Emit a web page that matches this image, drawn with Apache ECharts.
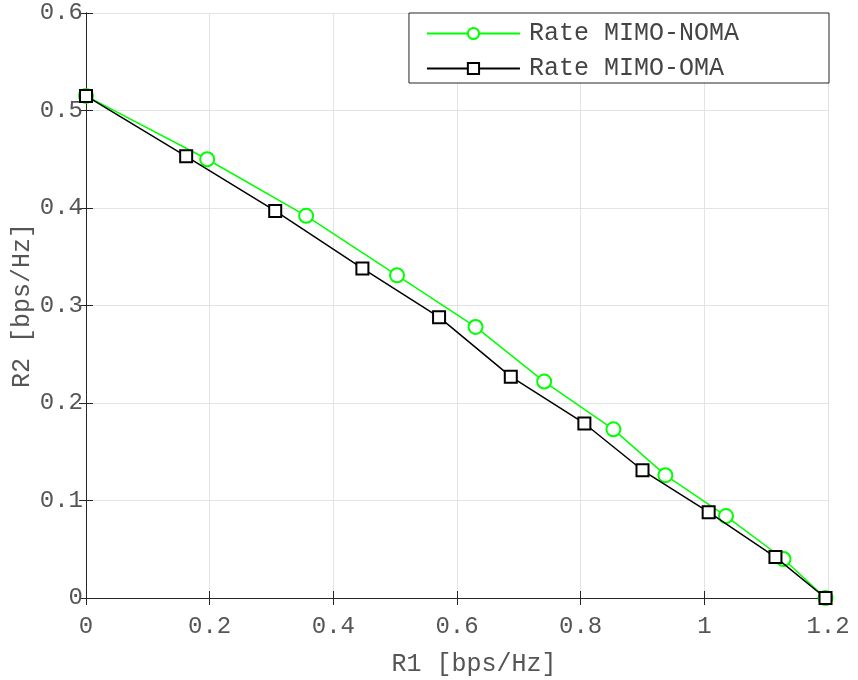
<!DOCTYPE html>
<html>
<head>
<meta charset="utf-8">
<script src="https://cdn.jsdelivr.net/npm/echarts@6/dist/echarts.min.js"></script>
<style>
  html, body { margin: 0; padding: 0; background: #fff; }
  #chart { width: 858px; height: 680px; }
</style>
</head>
<body>
<div id="chart"></div>
<script>
// Achievable rate region: R1 vs R2 for NOMA and OMA
const nomaR1 = [0, 0.196, 0.356, 0.503, 0.630, 0.741, 0.853, 0.937, 1.035, 1.128, 1.196];
const nomaR2 = [0.515, 0.450, 0.392, 0.331, 0.278, 0.222, 0.173, 0.126, 0.084, 0.040, 0];
const omaR1 = [0, 0.162, 0.306, 0.447, 0.571, 0.687, 0.806, 0.900, 1.007, 1.115, 1.196];
const omaR2 = [0.515, 0.453, 0.397, 0.338, 0.288, 0.227, 0.179, 0.131, 0.088, 0.042, 0];
const seriesNames = ['Rate MIMO-NOMA', 'Rate MIMO-OMA'];
const xTitle = 'R1 [bps/Hz]';
const yTitle = 'R2 [bps/Hz]';

const FONT = 'Liberation Mono, DejaVu Sans Mono, monospace';
const AXIS = '#262626';
const TEXT = '#555555';

const pairs = (xs, ys) => xs.map((x, i) => [x, ys[i]]);

const chart = echarts.init(document.getElementById('chart'));

const baseAxis = {
  type: 'value',
  axisLine: { show: true, lineStyle: { color: AXIS, width: 1 } },
  axisTick: { show: true, inside: true, length: 7, lineStyle: { color: AXIS } }
};

chart.setOption({
  animation: false,
  backgroundColor: '#fff',
  grid: { left: 86, right: 30, top: 13, bottom: 82, containLabel: false, outerBoundsMode: 'none' },
  legend: {
    orient: 'vertical',
    right: 29,
    top: 13,
    itemWidth: 93,
    itemHeight: 14,
    itemGap: 10,
    padding: [8, 90, 2, 17],
    borderColor: AXIS,
    borderWidth: 1,
    backgroundColor: '#fff',
    textStyle: { fontFamily: FONT, fontSize: 25, color: '#444444', padding: [0, 0, 0, 4] },
    data: seriesNames
  },
  xAxis: [
    Object.assign({}, baseAxis, {
      min: 0, max: 1.2, interval: 0.2,
      name: xTitle,
      nameLocation: 'middle',
      nameGap: 54,
      nameTextStyle: { fontFamily: FONT, fontSize: 25, color: TEXT, padding: [0, 0, 0, 34] },
      axisLabel: { fontFamily: FONT, fontSize: 24, color: TEXT, margin: 17 },
      splitLine: { show: true, lineStyle: { color: '#e3e3e3', width: 1 } }
    }),
    Object.assign({}, baseAxis, {
      position: 'top', min: 0, max: 1.2, interval: 0.2,
      axisLabel: { show: false }, splitLine: { show: false }
    })
  ],
  yAxis: [
    Object.assign({}, baseAxis, {
      min: 0, max: 0.6, interval: 0.1,
      name: yTitle,
      nameLocation: 'middle',
      nameGap: 51,
      nameMoveOverlap: false,
      nameTextStyle: { fontFamily: FONT, fontSize: 25, color: TEXT },
      axisLabel: { fontFamily: FONT, fontSize: 24, color: TEXT, margin: 3 },
      splitLine: { show: true, lineStyle: { color: '#e3e3e3', width: 1 } }
    }),
    Object.assign({}, baseAxis, {
      position: 'right', min: 0, max: 0.6, interval: 0.1,
      axisLabel: { show: false }, splitLine: { show: false }
    })
  ],
  series: [
    {
      name: seriesNames[0],
      type: 'line',
      data: pairs(nomaR1, nomaR2),
      symbol: 'emptyCircle',
      symbolSize: 14,
      lineStyle: { color: '#00ff00', width: 1.5 },
      itemStyle: { color: '#00ff00', borderWidth: 1.5 },
      z: 2
    },
    {
      name: seriesNames[1],
      type: 'line',
      data: pairs(omaR1, omaR2),
      symbol: 'emptyRect',
      symbolSize: 12,
      lineStyle: { color: '#000000', width: 1.5 },
      itemStyle: { color: '#000000', borderWidth: 1.5 },
      z: 3
    }
  ]
});
</script>
</body>
</html>
